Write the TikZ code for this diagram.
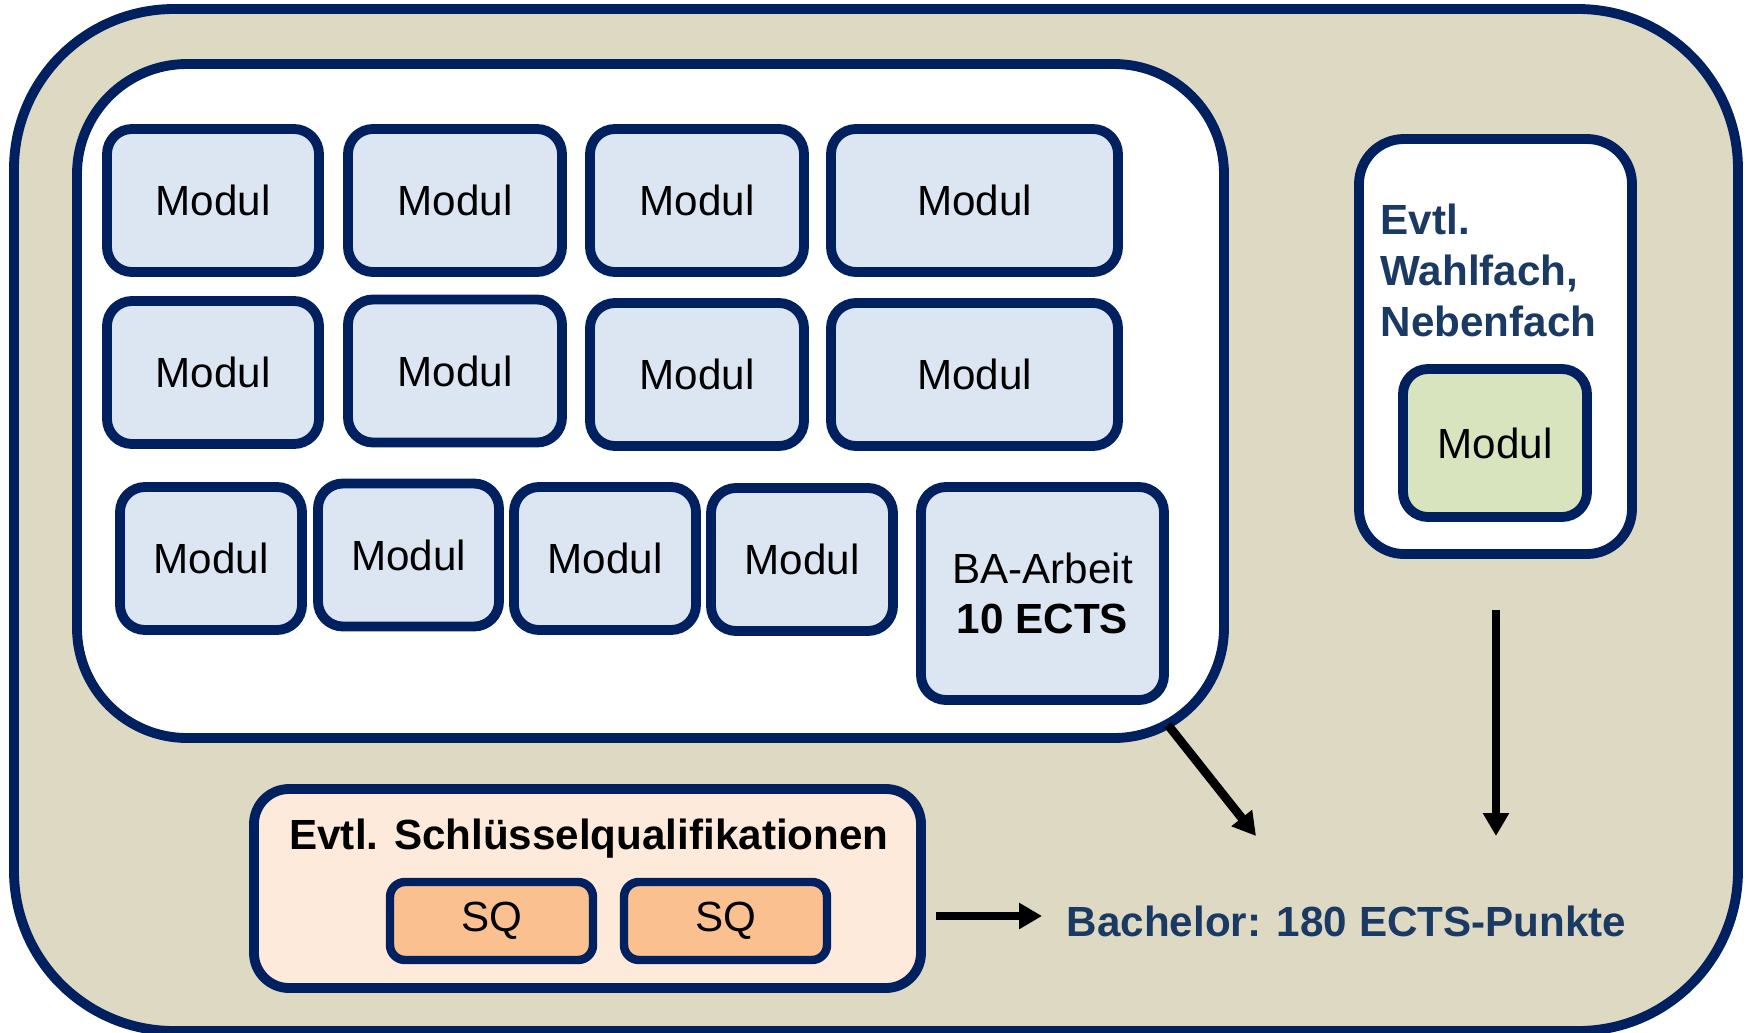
\documentclass[tikz,border=0pt]{standalone}
\usepackage{fontspec}
\setmainfont{Liberation Sans}
\usetikzlibrary{arrows.meta}
\definecolor{navy}{HTML}{002060}
\definecolor{beige}{HTML}{DDD9C3}
\definecolor{modblue}{HTML}{DCE6F2}
\definecolor{modgreen}{HTML}{D7E4BD}
\definecolor{sqpale}{HTML}{FDEADA}
\definecolor{sqorange}{HTML}{FAC090}
\definecolor{textblue}{HTML}{1B3A63}
\begin{document}
\begin{tikzpicture}[
  box/.style={rectangle, draw=navy, line width=2.8pt, inner sep=0pt},
  modul/.style={box, rounded corners=0.25cm, fill=modblue, minimum height=1.43cm, font=\fontsize{12}{14}\selectfont},
  sqmod/.style={box, line width=2.4pt, rounded corners=0.15cm, fill=sqorange, minimum width=2.03cm, minimum height=0.78cm, font=\fontsize{12}{14}\selectfont},
  pfeil/.style={line width=2.5pt, -{Triangle[length=0.23cm, width=0.25cm]}}
]
\useasboundingbox (0,0) rectangle (17.48,10.32);

\node [box, rounded corners=1.6cm, fill=beige, minimum width=17.24cm, minimum height=10.22cm] (outer) at (8.76,5.12) {};
\node [box, rounded corners=1.1cm, fill=white, minimum width=11.47cm, minimum height=6.74cm] (pflicht) at (6.505,6.31) {};

% Pflichtmodule
\node [modul, minimum width=2.12cm] (m1) at (2.13,8.315) {Modul};
\node [modul, minimum width=2.14cm] (m2) at (4.55,8.315) {Modul};
\node [modul, minimum width=2.14cm] (m3) at (6.97,8.315) {Modul};
\node [modul, minimum width=2.87cm] (m4) at (9.745,8.315) {Modul};

\node [modul, minimum width=2.12cm] (m5) at (2.13,6.595) {Modul};
\node [modul, minimum width=2.14cm] (m6) at (4.55,6.61) {Modul};
\node [modul, minimum width=2.14cm] (m7) at (6.97,6.575) {Modul};
\node [modul, minimum width=2.87cm] (m8) at (9.745,6.575) {Modul};

\node [modul, minimum width=1.82cm] (m9) at (2.11,4.735) {Modul};
\node [modul, minimum width=1.81cm] (m10) at (4.085,4.77) {Modul};
\node [modul, minimum width=1.82cm] (m11) at (6.05,4.735) {Modul};
\node [modul, minimum width=1.82cm] (m12) at (8.02,4.725) {Modul};
\node [modul, minimum width=2.43cm, minimum height=2.13cm, align=center] (ba) at (10.425,4.385) {BA-Arbeit\\\textbf{10 ECTS}};

% Wahlfach
\node [box, rounded corners=0.45cm, fill=white, minimum width=2.73cm, minimum height=4.15cm] (wahl) at (14.955,6.855) {};
\node [anchor=west, align=left, text=textblue, inner sep=0pt, font=\bfseries\fontsize{12}{14.5}\selectfont] (wahltext) at (13.80,7.62) {Evtl.\\Wahlfach,\\Nebenfach};
\node [modul, fill=modgreen, minimum width=1.84cm, minimum height=1.48cm] (m13) at (14.95,5.89) {Modul};

% Schluesselqualifikationen
\node [box, rounded corners=0.35cm, fill=sqpale, minimum width=6.67cm, minimum height=1.99cm] (sq) at (5.875,1.435) {};
\node [font=\bfseries\fontsize{12}{14}\selectfont] (sqtitel) at (5.89,1.93) {Evtl. Schlüsselqualifikationen};
\node [sqmod] (sq1) at (4.915,1.11) {SQ};
\node [sqmod] (sq2) at (7.255,1.11) {SQ};

\node [text=textblue, font=\bfseries\fontsize{12}{14}\selectfont] (bachelor) at (13.465,1.11) {Bachelor: 180 ECTS-Punkte};

\coordinate (p1) at (9.36,1.16);
\coordinate (p2) at (10.42,1.16);
\coordinate (p3) at (11.68,3.07);
\coordinate (p4) at (12.56,1.96);
\coordinate (p5) at (14.96,4.22);
\coordinate (p6) at (14.96,1.96);

\draw [pfeil] (p1) -- (p2);
\draw [pfeil] (p3) -- (p4);
\draw [pfeil] (p5) -- (p6);
\end{tikzpicture}
\end{document}
